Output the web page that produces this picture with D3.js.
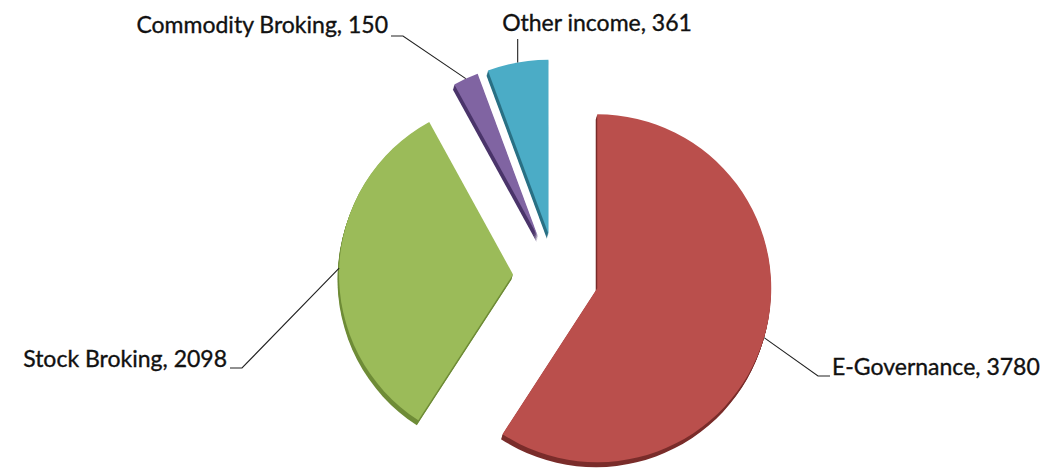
<!DOCTYPE html>
<html><head><meta charset="utf-8">
<script src="https://cdn.jsdelivr.net/npm/d3@7"></script>
<style>html,body{margin:0;padding:0;background:#fff;}svg{display:block;}</style>
</head><body>
<svg id="chart" width="1045" height="469"></svg>
<script>
// ---- data ----
const categories = ["E-Governance", "Stock Broking", "Commodity Broking", "Other income"];
const values = [3780, 2098, 150, 361];
const faceColors = ["#BA4F4C", "#9BBB59", "#8064A2", "#4BACC6"];
const sideColors = ["#7A2D2B", "#6F8C38", "#4B356B", "#2A7185"];

// ---- layout ----
const W = 1045, H = 469;
const cx = 556, cy = 276, R = 174, explode = 43, depth = 5;
// label layout
const labelLayout = [
  {anchor: "start", tx: 832, ty: 375, ex: 818, ey: 376, hx: 830},
  {anchor: "end",   tx: 227, ty: 367, ex: 242, ey: 368, hx: 230},
  {anchor: "end",   tx: 388, ty: 33,  ex: 403, ey: 36,  hx: 391},
  {anchor: "middle",tx: 597, ty: 31,  ex: null, ey: 39, hx: null}
];

const svg = d3.select("#chart");
const data = categories.map((c, i) => ({name: c, value: values[i], i}));
const pie = d3.pie().value(d => d.value).sort(null).startAngle(0).endAngle(2 * Math.PI);
const arcs = pie(data);
const arc = d3.arc().innerRadius(0).outerRadius(R);

function offset(a) {
  const m = (a.startAngle + a.endAngle) / 2;
  return [cx + Math.sin(m) * explode, cy - Math.cos(m) * explode];
}

const g = svg.append("g");
// depth (side walls)
for (let k = depth; k >= 1; k--) {
  g.selectAll(null).data(arcs).enter().append("path")
    .attr("d", arc)
    .attr("transform", d => { const [x, y] = offset(d); return `translate(${x - k * 0.3},${y + k})`; })
    .attr("fill", d => sideColors[d.index]);
}
// faces
g.selectAll(null).data(arcs).enter().append("path")
  .attr("d", arc)
  .attr("transform", d => { const [x, y] = offset(d); return `translate(${x},${y})`; })
  .attr("fill", d => faceColors[d.index]);

// leader lines and labels
const lg = svg.append("g");
arcs.forEach(d => {
  const L = labelLayout[d.index];
  const [ox, oy] = offset(d);
  const m = (d.startAngle + d.endAngle) / 2;
  const px = ox + Math.sin(m) * R, py = oy - Math.cos(m) * R;
  const ex = L.ex === null ? px : L.ex;
  const pts = [[px, py], [ex, L.ey]];
  if (L.hx !== null) pts.push([L.hx, L.ey]);
  lg.append("path")
    .attr("d", d3.line()(pts))
    .attr("fill", "none").attr("stroke", "#222").attr("stroke-width", 1.1);
  lg.append("text")
    .attr("x", L.tx).attr("y", L.ty)
    .attr("text-anchor", L.anchor)
    .attr("font-family", "Lato, 'Open Sans', sans-serif")
    .attr("font-size", 23)
    .attr("fill", "#111")
    .attr("stroke", "#111").attr("stroke-width", 0.35)
    .text(`${d.data.name}, ${d.data.value}`);
});
</script>
</body></html>
